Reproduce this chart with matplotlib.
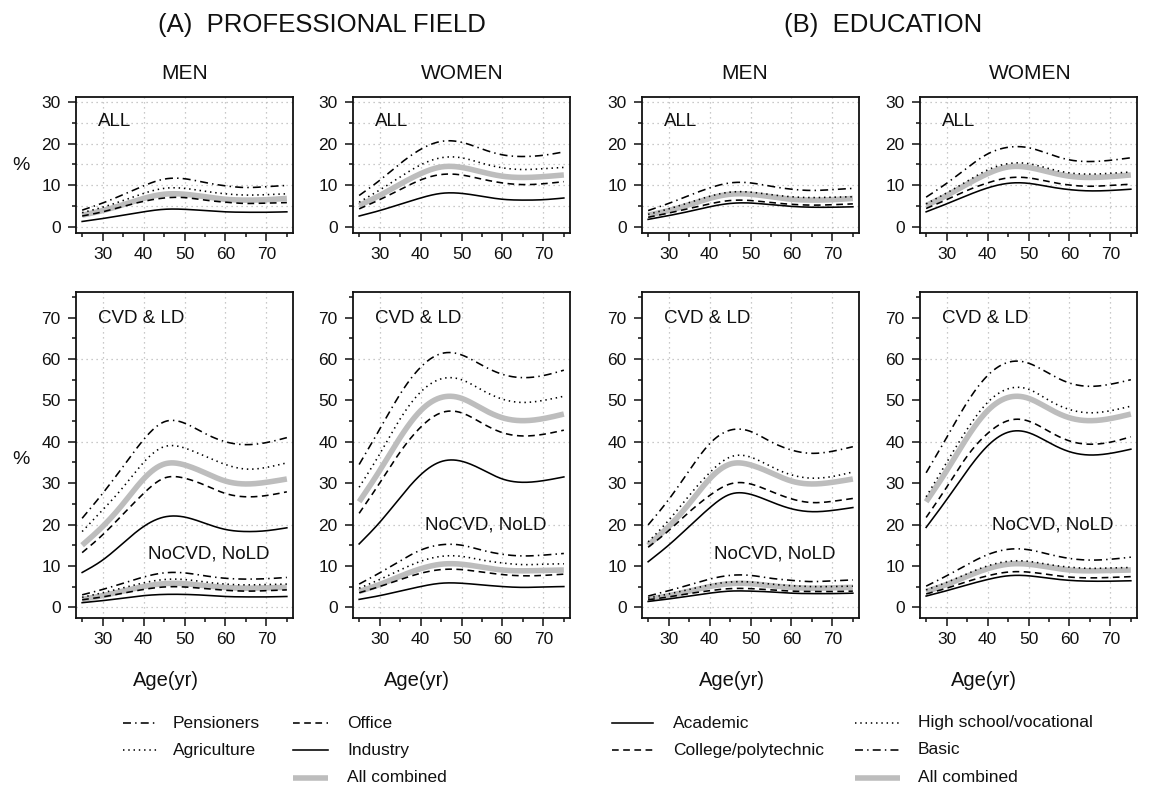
import numpy as np
import matplotlib
matplotlib.use("Agg")
import matplotlib.pyplot as plt
from matplotlib.lines import Line2D
from matplotlib.ticker import MultipleLocator, FixedLocator

plt.rcParams['font.family'] = ['Liberation Sans', 'DejaVu Sans']

# ---------------- data (values read at 5-year ages) ----------------
ages = [25, 30, 35, 40, 45, 50, 55, 60, 65, 70, 75]

men_combined_all = [2.9, 4.0, 5.4, 6.9, 7.9, 7.9, 7.3, 6.7, 6.5, 6.6, 6.9]
women_combined_all = [5.2, 7.6, 10.3, 12.8, 14.4, 14.3, 13.2, 12.2, 11.9, 12.1, 12.5]
men_combined_cvd = [15.0, 19.5, 25.0, 31.0, 34.6, 34.4, 32.5, 30.5, 29.8, 30.2, 31.0]
women_combined_cvd = [25.5, 33.0, 41.0, 47.5, 50.7, 50.5, 48.0, 45.8, 45.1, 45.6, 46.7]
men_combined_no = [1.9, 2.8, 3.9, 5.0, 5.7, 5.7, 5.2, 4.8, 4.6, 4.7, 4.8]
women_combined_no = [3.8, 5.5, 7.5, 9.3, 10.4, 10.4, 9.7, 9.0, 8.8, 8.9, 9.0]

# (A) professional field
prof_men_all = {
    "Pensioners":  [4.1, 5.8, 7.8, 9.9, 11.5, 11.6, 10.7, 9.9, 9.5, 9.7, 10.0],
    "Agriculture": [3.5, 4.8, 6.4, 8.1, 9.3, 9.3, 8.6, 8.0, 7.7, 7.8, 8.0],
    "Office":      [2.7, 3.7, 5.0, 6.2, 7.0, 7.1, 6.5, 6.0, 5.7, 5.8, 5.9],
    "Industry":    [1.4, 2.1, 2.9, 3.7, 4.3, 4.3, 4.0, 3.7, 3.6, 3.6, 3.7],
}
prof_women_all = {
    "Pensioners":  [7.6, 11.2, 15.2, 18.6, 20.5, 20.3, 18.7, 17.3, 16.9, 17.2, 18.0],
    "Agriculture": [6.0, 8.9, 12.0, 14.9, 16.6, 16.6, 15.3, 14.2, 13.8, 14.0, 14.3],
    "Office":      [4.4, 6.6, 9.0, 11.3, 12.6, 12.5, 11.5, 10.6, 10.2, 10.4, 10.9],
    "Industry":    [2.7, 4.0, 5.5, 7.0, 8.1, 8.1, 7.4, 6.7, 6.5, 6.6, 7.0],
}
prof_men_cvd = {
    "Pensioners":  [21.5, 27.5, 34.0, 40.5, 44.8, 44.5, 42.0, 40.0, 39.3, 39.8, 41.0],
    "Agriculture": [18.3, 23.5, 29.0, 35.0, 38.8, 38.5, 36.5, 34.5, 33.4, 33.8, 34.9],
    "Office":      [13.2, 17.5, 22.5, 27.5, 31.2, 31.2, 29.5, 27.5, 26.7, 27.0, 27.9],
    "Industry":    [8.4, 11.4, 15.5, 19.5, 21.8, 21.8, 20.3, 18.8, 18.3, 18.5, 19.2],
}
prof_women_cvd = {
    "Pensioners":  [34.5, 43.0, 51.5, 58.0, 61.3, 61.0, 58.5, 56.3, 55.5, 56.0, 57.3],
    "Agriculture": [29.0, 37.0, 45.5, 52.0, 55.2, 55.0, 52.5, 50.3, 49.5, 50.0, 51.0],
    "Office":      [22.7, 30.0, 37.5, 43.5, 47.0, 47.0, 44.5, 42.2, 41.4, 41.8, 42.8],
    "Industry":    [15.3, 20.5, 26.5, 32.0, 35.2, 35.3, 33.3, 31.0, 30.2, 30.6, 31.5],
}
prof_men_no = {
    "Pensioners":  [3.0, 4.3, 5.8, 7.3, 8.3, 8.3, 7.6, 7.0, 6.8, 6.9, 7.2],
    "Agriculture": [2.4, 3.5, 4.7, 5.9, 6.7, 6.7, 6.1, 5.6, 5.4, 5.5, 5.6],
    "Office":      [1.8, 2.5, 3.4, 4.3, 4.9, 4.9, 4.5, 4.1, 3.9, 4.0, 4.2],
    "Industry":    [1.1, 1.6, 2.2, 2.8, 3.1, 3.1, 2.9, 2.6, 2.5, 2.5, 2.6],
}
prof_women_no = {
    "Pensioners":  [5.6, 8.3, 11.2, 13.8, 15.1, 15.0, 13.8, 12.8, 12.4, 12.6, 13.0],
    "Agriculture": [4.6, 6.7, 9.0, 11.1, 12.3, 12.3, 11.4, 10.7, 10.3, 10.4, 10.5],
    "Office":      [3.5, 5.0, 6.7, 8.2, 9.1, 9.1, 8.5, 7.9, 7.6, 7.7, 8.0],
    "Industry":    [1.9, 2.8, 3.9, 5.0, 5.8, 5.8, 5.4, 5.0, 4.8, 4.9, 5.0],
}

# (B) education
edu_men_all = {
    "Basic":                  [4.0, 5.7, 7.6, 9.4, 10.6, 10.6, 9.8, 9.1, 8.8, 9.0, 9.3],
    "High school/vocational": [3.1, 4.4, 5.9, 7.4, 8.4, 8.4, 7.8, 7.3, 7.1, 7.2, 7.3],
    "College/polytechnic":    [2.4, 3.4, 4.5, 5.6, 6.4, 6.4, 5.9, 5.5, 5.3, 5.4, 5.6],
    "Academic":               [1.9, 2.8, 3.8, 4.9, 5.7, 5.8, 5.4, 5.0, 4.8, 4.8, 4.9],
}
edu_women_all = {
    "Basic":                  [7.2, 10.5, 14.2, 17.5, 19.1, 19.0, 17.5, 16.1, 15.7, 16.0, 16.6],
    "High school/vocational": [5.6, 8.2, 11.0, 13.7, 15.2, 15.2, 14.0, 13.0, 12.7, 12.9, 13.2],
    "College/polytechnic":    [4.5, 6.6, 8.8, 10.6, 11.8, 11.8, 10.9, 10.1, 9.8, 10.0, 10.3],
    "Academic":               [3.7, 5.6, 7.6, 9.4, 10.5, 10.5, 9.7, 9.0, 8.7, 8.8, 9.1],
}
edu_men_cvd = {
    "Basic":                  [19.9, 26.0, 33.0, 39.5, 42.8, 42.5, 40.0, 38.0, 37.2, 37.7, 38.8],
    "High school/vocational": [15.8, 21.0, 27.0, 32.5, 36.3, 36.3, 34.0, 32.0, 31.2, 31.6, 32.7],
    "College/polytechnic":    [14.5, 18.5, 23.0, 27.0, 29.8, 29.8, 28.0, 26.2, 25.3, 25.6, 26.3],
    "Academic":               [11.0, 15.0, 19.5, 24.0, 27.3, 27.3, 25.5, 23.8, 23.1, 23.4, 24.1],
}
edu_women_cvd = {
    "Basic":                  [32.5, 41.0, 49.5, 56.0, 59.2, 59.0, 56.5, 54.2, 53.4, 53.9, 55.0],
    "High school/vocational": [26.7, 35.0, 43.0, 49.5, 52.8, 52.7, 50.0, 47.8, 47.0, 47.5, 48.6],
    "College/polytechnic":    [21.7, 29.0, 36.5, 42.0, 45.1, 45.0, 42.5, 40.2, 39.4, 39.9, 41.2],
    "Academic":               [19.3, 26.0, 33.0, 39.0, 42.3, 42.2, 39.8, 37.6, 36.8, 37.2, 38.2],
}
edu_men_no = {
    "Basic":                  [2.7, 4.0, 5.4, 6.8, 7.7, 7.7, 7.0, 6.5, 6.2, 6.4, 6.6],
    "High school/vocational": [2.2, 3.2, 4.3, 5.4, 6.1, 6.1, 5.6, 5.2, 5.0, 5.0, 5.1],
    "College/polytechnic":    [1.8, 2.5, 3.3, 4.0, 4.5, 4.5, 4.2, 3.9, 3.8, 3.8, 3.9],
    "Academic":               [1.4, 2.0, 2.7, 3.4, 3.9, 3.9, 3.7, 3.4, 3.3, 3.3, 3.4],
}
edu_women_no = {
    "Basic":                  [5.1, 7.6, 10.3, 12.7, 14.0, 13.9, 12.8, 11.8, 11.4, 11.6, 12.1],
    "High school/vocational": [4.2, 6.0, 8.1, 10.0, 11.1, 11.1, 10.3, 9.7, 9.4, 9.5, 9.6],
    "College/polytechnic":    [3.2, 4.6, 6.2, 7.6, 8.5, 8.5, 7.9, 7.3, 7.1, 7.2, 7.4],
    "Academic":               [2.7, 4.0, 5.4, 6.7, 7.6, 7.6, 7.0, 6.5, 6.3, 6.3, 6.4],
}

x_ticks = [30, 40, 50, 60, 70]
top_yticks = [0, 10, 20, 30]
bot_yticks = [0, 10, 20, 30, 40, 50, 60, 70]

# ---------------- styles ----------------
GRAY = '#bdbdbd'
DASHDOT = (0, (5.0, 2.6, 0.9, 2.6))
DOTTED = (0, (0.9, 2.4))
DASHED = (0, (4.2, 2.8))
SOLID = '-'
LW = 1.15
styles = {
    "Pensioners": DASHDOT, "Agriculture": DOTTED, "Office": DASHED, "Industry": SOLID,
    "Basic": DASHDOT, "High school/vocational": DOTTED,
    "College/polytechnic": DASHED, "Academic": SOLID,
}


def smooth_curve(x, y, n=300):
    """Natural cubic spline through the read points (display smoothing only)."""
    x = np.asarray(x, float)
    y = np.asarray(y, float)
    m = len(x)
    h = np.diff(x)
    A = np.zeros((m, m))
    d = np.zeros(m)
    A[0, 0] = A[-1, -1] = 1.0
    for i in range(1, m - 1):
        A[i, i - 1] = h[i - 1]
        A[i, i] = 2 * (h[i - 1] + h[i])
        A[i, i + 1] = h[i]
        d[i] = 6 * ((y[i + 1] - y[i]) / h[i] - (y[i] - y[i - 1]) / h[i - 1])
    M = np.linalg.solve(A, d)
    t = np.linspace(x[0], x[-1], n)
    k = np.clip(np.searchsorted(x, t) - 1, 0, m - 2)
    hk = h[k]
    a = x[k + 1] - t
    b = t - x[k]
    s = (M[k] * a ** 3 + M[k + 1] * b ** 3) / (6 * hk) \
        + (y[k] / hk - M[k] * hk / 6) * a + (y[k + 1] / hk - M[k + 1] * hk / 6) * b
    return t, s


fig = plt.figure(figsize=(11.5, 7.88), dpi=100)
W, H = 1150.0, 788.0

col_left = [76, 353, 642, 920]
col_w = 217
top_box = (97, 233)
bot_box = (292, 618)
TXT = '#111111'


def make_ax(left, box):
    t, b = box
    return fig.add_axes([left / W, (H - b) / H, col_w / W, (b - t) / H])


def style_ax(ax, ylim, yticks, ygrid):
    ax.set_xlim(23.5, 76.5)
    ax.set_ylim(*ylim)
    ax.xaxis.set_major_locator(FixedLocator(x_ticks))
    ax.xaxis.set_minor_locator(FixedLocator([25, 35, 45, 55, 65, 75]))
    ax.yaxis.set_major_locator(FixedLocator(yticks))
    ax.yaxis.set_minor_locator(MultipleLocator(5))
    for xg in x_ticks:
        ax.axvline(xg, color='#b8b8b8', lw=0.9, ls=(0, (1, 3)), zorder=0)
    for yg in ygrid:
        ax.axhline(yg, color='#b8b8b8', lw=0.9, ls=(0, (1, 3)), zorder=0)
    ax.tick_params(which='major', direction='out', length=6, width=1.1,
                   labelsize=12.5, colors='#111111', pad=4)
    ax.tick_params(which='minor', direction='out', length=3, width=1.1, colors='#111111')
    ax.tick_params(axis='y', pad=5)
    for sp in ax.spines.values():
        sp.set_linewidth(1.3)
        sp.set_color('#111111')


def draw_group(ax, group, combined):
    tx, ty = smooth_curve(ages, combined)
    ax.plot(tx, ty, color=GRAY, lw=4.0, solid_capstyle='butt', zorder=2)
    for name, vals in group.items():
        sx, sy = smooth_curve(ages, vals)
        ax.plot(sx, sy, color='black', lw=LW, ls=styles[name], zorder=3)


panels = [
    (prof_men_all, prof_men_cvd, prof_men_no, men_combined_all, men_combined_cvd, men_combined_no, 11.7),
    (prof_women_all, prof_women_cvd, prof_women_no, women_combined_all, women_combined_cvd, women_combined_no, 18.8),
    (edu_men_all, edu_men_cvd, edu_men_no, men_combined_all, men_combined_cvd, men_combined_no, 11.7),
    (edu_women_all, edu_women_cvd, edu_women_no, women_combined_all, women_combined_cvd, women_combined_no, 18.8),
]

for i, (g_all, g_cvd, g_no, c_all, c_cvd, c_no, no_y) in enumerate(panels):
    ax = make_ax(col_left[i], top_box)
    style_ax(ax, (-1.35, 31.1), top_yticks, [0, 5, 10, 15, 20, 25, 30])
    draw_group(ax, g_all, c_all)
    ax.text(0.10, 0.787, "ALL", transform=ax.transAxes, fontsize=13.5,
            va='baseline', ha='left', color=TXT)

    ax2 = make_ax(col_left[i], bot_box)
    style_ax(ax2, (-2.6, 76.2), bot_yticks, [0, 20, 40, 60])
    draw_group(ax2, g_cvd, c_cvd)
    draw_group(ax2, g_no, c_no)
    ax2.text(0.10, 0.905, "CVD & LD", transform=ax2.transAxes, fontsize=13.5,
             va='baseline', ha='left', color=TXT)
    ax2.text(41, no_y, "NoCVD, NoLD", fontsize=13.5, va='baseline', ha='left', color=TXT)

# ---------------- overlay for titles / labels / legends ----------------
ov = fig.add_axes([0, 0, 1, 1], zorder=-1)
ov.set_xlim(0, W)
ov.set_ylim(H, 0)
ov.axis('off')

ov.text(322, 25, "(A)  PROFESSIONAL FIELD", fontsize=18.5, ha='center', va='center', color=TXT)
ov.text(883, 25, "(B)  EDUCATION", fontsize=18.5, ha='center', va='center', color=TXT)
for cx, lab in zip([185, 462, 745, 1030], ["MEN", "WOMEN", "MEN", "WOMEN"]):
    ov.text(cx, 73, lab, fontsize=15, ha='center', va='center', color=TXT)

ov.text(21, 165, "%", fontsize=14, ha='center', va='center', color=TXT)
ov.text(21, 459, "%", fontsize=14, ha='center', va='center', color=TXT)
for cx in [166, 417, 732, 984]:
    ov.text(cx, 681, "Age(yr)", fontsize=14.5, ha='center', va='center', color=TXT)

legend_rows = [723, 750, 778]
legend_items = [
    # (x0, x1, text_x, row, label, style)
    (123, 157, 173, 0, "Pensioners", DASHDOT),
    (123, 157, 173, 1, "Agriculture", DOTTED),
    (293, 328, 347, 0, "Office", DASHED),
    (293, 328, 347, 1, "Industry", SOLID),
    (293, 328, 347, 2, "All combined", None),
    (612, 653, 673, 0, "Academic", SOLID),
    (612, 653, 673, 1, "College/polytechnic", DASHED),
    (855, 900, 918, 0, "High school/vocational", DOTTED),
    (855, 900, 918, 1, "Basic", DASHDOT),
    (855, 900, 918, 2, "All combined", None),
]
for x0, x1, tx, r, lab, st in legend_items:
    yy = legend_rows[r]
    if st is None:
        ov.add_line(Line2D([x0, x1], [yy, yy], color=GRAY, lw=4.0, solid_capstyle='butt'))
    else:
        ov.add_line(Line2D([x0, x1], [yy, yy], color='black', lw=LW, ls=st))
    ov.text(tx, yy, lab, fontsize=12.5, ha='left', va='center', color=TXT)

fig.savefig("out.png", dpi=100)
